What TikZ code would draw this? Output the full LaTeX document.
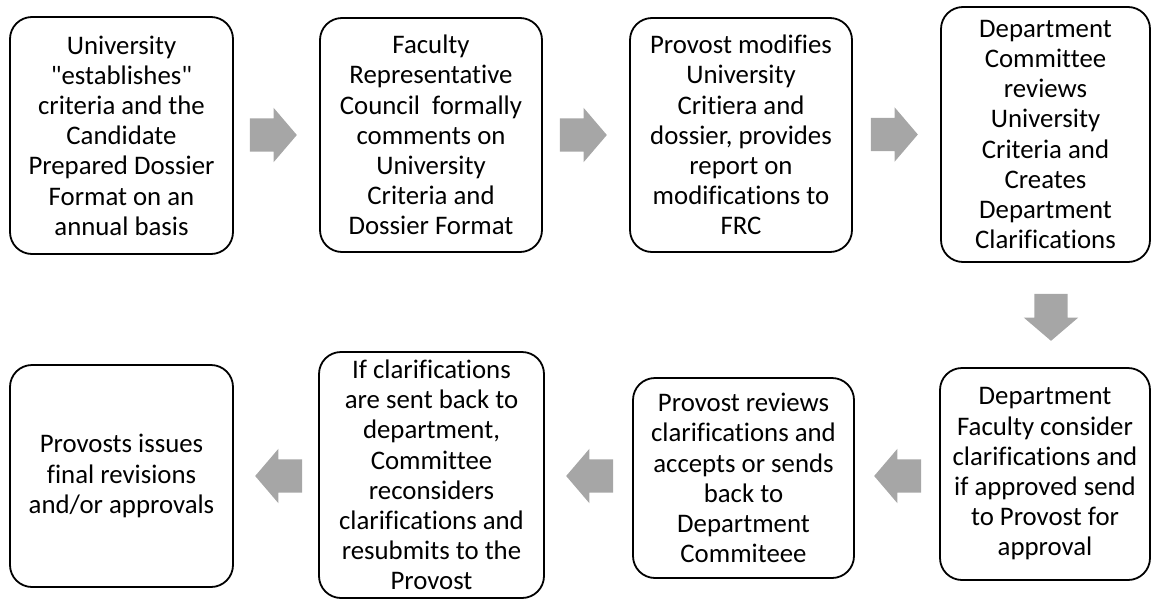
\documentclass[tikz,border=0pt]{standalone}
\usepackage{fontspec}
\setmainfont{Carlito}[Ligatures=NoCommon]
\usetikzlibrary{shapes.arrows,calc}

\definecolor{arrowgray}{HTML}{A6A6A6}

\begin{document}
\begin{tikzpicture}[x=1pt,y=-1pt,
    stage/.style={draw,line width=1.8pt,rounded corners=22pt,align=center,inner sep=0pt,
      font=\fontsize{26.8}{30.2}\selectfont},
    flow/.style={single arrow,fill=arrowgray,draw=none,inner xsep=0pt,inner ysep=16.5pt,
      minimum height=47pt,single arrow head extend=10.5pt,single arrow tip angle=99,anchor=tip}]

\useasboundingbox (0,0) rectangle (1152,600);

% top row
\node[stage,minimum width=223pt,minimum height=237pt] (1) at (121.5,135.5)
  {University\\\textquotedbl establishes\textquotedbl\\criteria and the\\Candidate\\Prepared Dossier\\Format on an\\annual basis};
\node[stage,minimum width=222pt,minimum height=234pt] (2) at (431,135)
  {Faculty\\Representative\\Council\ \ formally\\comments on\\University\\Criteria and\\Dossier Format};
\node[stage,minimum width=222pt,minimum height=234pt] (3) at (741,135)
  {Provost modifies\\University\\Critiera and\\dossier, provides\\report on\\modifications to\\FRC};
\node[stage,minimum width=209pt,minimum height=255pt] (4) at (1045.5,134.5)
  {Department\\Committee\\reviews\\University\\Criteria and\\Creates\\Department\\Clarifications};

% bottom row
\node[stage,minimum width=210pt,minimum height=212pt] (5) at (1045,474)
  {Department\\Faculty consider\\clarifications and\\if approved send\\to Provost for\\approval};
\node[stage,minimum width=221pt,minimum height=200pt] (6) at (743.5,478)
  {Provost reviews\\clarifications and\\accepts or sends\\back to\\Department\\Commiteee};
\node[stage,minimum width=225pt,minimum height=246pt] (7) at (431.5,475)
  {If clarifications\\are sent back to\\department,\\Committee\\reconsiders\\clarifications and\\resubmits to the\\Provost};
\node[stage,minimum width=223pt,minimum height=222pt] (8) at (121.5,476)
  {Provosts issues\\final revisions\\and/or approvals};

% block arrows
\node[flow] (a12) at ($(2.west)+(-22,0)$) {};
\node[flow] (a23) at ($(3.west)+(-22,0)$) {};
\node[flow] (a34) at ($(4.west)+(-22,0)$) {};
\node[flow,shape border rotate=270,inner xsep=16.5pt,inner ysep=0pt] (a45)
  at ($(5.north)+(6,-26)$) {};
\node[flow,shape border rotate=180] (a56) at ($(6.east)+(19,-2)$) {};
\node[flow,shape border rotate=180] (a67) at ($(7.east)+(21,1)$) {};
\node[flow,shape border rotate=180] (a78) at ($(8.east)+(21,0)$) {};
\end{tikzpicture}
\end{document}
